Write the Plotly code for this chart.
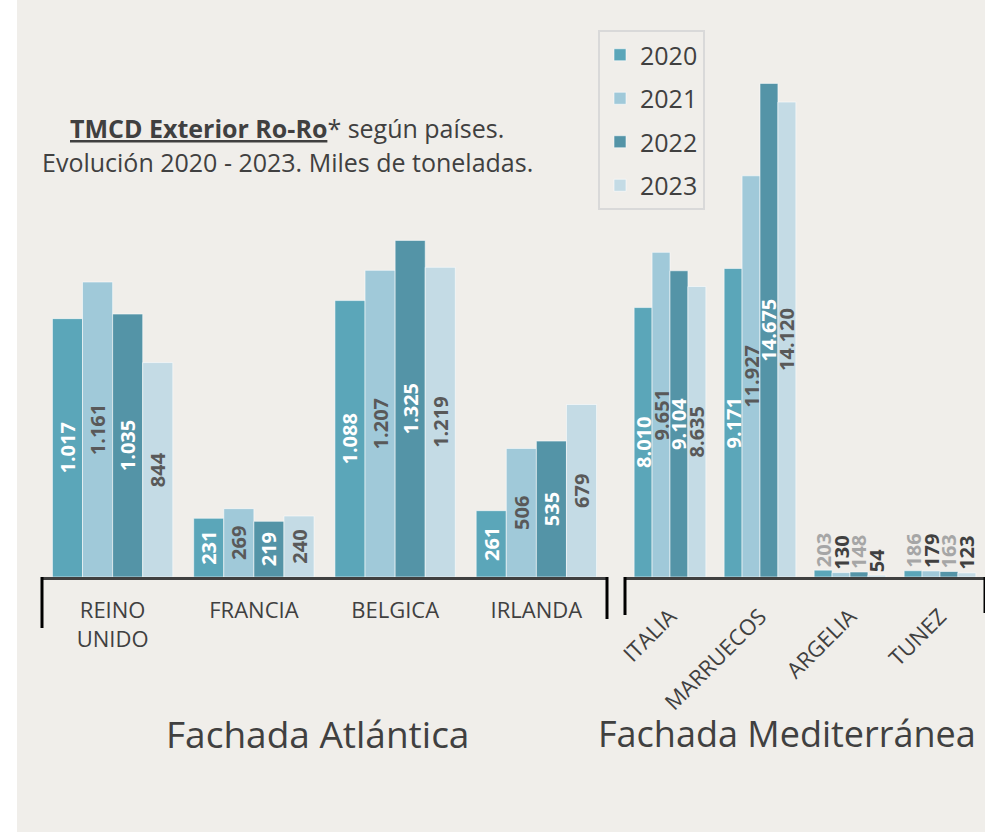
import plotly.graph_objects as go

# Data (miles de toneladas)
years = ["2020", "2021", "2022", "2023"]

atl_countries = ["REINO<br>UNIDO", "FRANCIA", "BELGICA", "IRLANDA"]
atl_2020 = [1017, 231, 1088, 261]
atl_2021 = [1161, 269, 1207, 506]
atl_2022 = [1035, 219, 1325, 535]
atl_2023 = [844, 240, 1219, 679]

med_countries = ["ITALIA", "MARRUECOS", "ARGELIA", "TUNEZ"]
med_2020 = [8010, 9171, 203, 186]
med_2021 = [9651, 11927, 130, 179]
med_2022 = [9104, 14675, 148, 163]
med_2023 = [8635, 14120, 54, 123]

atl_series = [atl_2020, atl_2021, atl_2022, atl_2023]
med_series = [med_2020, med_2021, med_2022, med_2023]

colors = ["#5ba6b9", "#a0c9d9", "#5494a7", "#c4dbe5"]
inside_font = ["white", "#595959", "white", "#595959"]
outside_font = ["#a6a6a6", "#404040", "#a6a6a6", "#404040"]
BG = "#f0eeea"
FONT = "Open Sans"
W, H = 985, 832


def fmt(v):
    return f"{v:,}".replace(",", ".")


fig = go.Figure()

atl_w = 0.852 / 4
med_w = 0.797 / 4
for i, yr in enumerate(years):
    fig.add_trace(go.Bar(
        x=atl_countries, y=atl_series[i], name=yr, legendgroup=yr,
        marker=dict(color=colors[i], line=dict(color="rgba(255,255,255,0.55)", width=1)),
        width=atl_w, offset=-0.426 + i * atl_w,
        text=[fmt(v) for v in atl_series[i]], textposition="inside",
        insidetextanchor="middle", textangle=-90, constraintext="none",
        textfont=dict(family=FONT, size=20, color=inside_font[i], weight="bold"),
        xaxis="x", yaxis="y", cliponaxis=False,
    ))
for i, yr in enumerate(years):
    vals = med_series[i]
    small = [v < 1000 for v in vals]
    fig.add_trace(go.Bar(
        x=med_countries, y=vals, name=yr, legendgroup=yr, showlegend=False,
        marker=dict(color=colors[i], line=dict(color="rgba(255,255,255,0.55)", width=1)),
        width=med_w, offset=-0.3985 + i * med_w,
        text=[fmt(v) for v in vals],
        textposition=["outside" if s else "inside" for s in small],
        insidetextanchor="middle", textangle=-90, constraintext="none",
        textfont=dict(family=FONT, size=20, weight="bold",
                      color=[outside_font[i] if s else inside_font[i] for s in small]),
        xaxis="x2", yaxis="y2", cliponaxis=False,
    ))

y0 = 1 - 577 / H
y1 = 1 - 60 / H
axis_common = dict(showline=True, linecolor="#404040", linewidth=3, ticks="",
                   showgrid=False, zeroline=False, fixedrange=True, automargin=False,
                   tickfont=dict(family=FONT, size=22, color="#404040"))

fig.update_layout(
    width=W, height=H,
    margin=dict(l=0, r=0, t=0, b=0, pad=0, autoexpand=False),
    paper_bgcolor=BG, plot_bgcolor="rgba(0,0,0,0)",
    barmode="overlay",
    font=dict(family=FONT, color="#404040"),
    xaxis=dict(domain=[42 / W, 607 / W], anchor="y", range=[-0.5, 3.5],
               ticklabelstandoff=12, **axis_common),
    xaxis2=dict(domain=[625 / W, 1.0], anchor="y2", range=[-0.5, 3.5], tickangle=-45,
                ticklabelstandoff=15, **axis_common),
    yaxis=dict(domain=[y0, y1], range=[0, 2035], visible=False),
    yaxis2=dict(domain=[y0, y1], range=[0, 15370], visible=False, anchor="x2"),
    legend=dict(x=598 / W, y=1 - 30 / H, xanchor="left", yanchor="top",
                bgcolor=BG, bordercolor="#d9d9d9", borderwidth=2,
                font=dict(family=FONT, size=25, color="#404040"),
                tracegroupgap=8),
    showlegend=True,
)

# white strip on the left edge
fig.add_shape(type="rect", xref="paper", yref="paper", x0=0, x1=17 / W, y0=0, y1=1,
              fillcolor="white", line_width=0, layer="below")

# bracket ends of the category axes
for xr, ends in (("x domain", [(0, 628), (1, 619)]), ("x2 domain", [(0, 615), (1, 613)])):
    for xd, bottom in ends:
        fig.add_shape(type="line", xref=xr, yref="paper", x0=xd, x1=xd,
                      y0=y0, y1=1 - bottom / H, line=dict(color="black", width=3))

fig.add_annotation(text="<b><u>TMCD Exterior Ro-Ro</u></b>* según países.",
                   xref="paper", yref="paper", x=287 / W, y=1 - 128 / H,
                   xanchor="center", yanchor="middle", showarrow=False,
                   font=dict(family=FONT, size=25, color="#404040"))
fig.add_annotation(text="Evolución 2020 - 2023. Miles de toneladas.",
                   xref="paper", yref="paper", x=287 / W, y=1 - 162 / H,
                   xanchor="center", yanchor="middle", showarrow=False,
                   font=dict(family=FONT, size=25, color="#404040"))
fig.add_annotation(text="Fachada Atlántica", xref="paper", yref="paper",
                   x=317 / W, y=1 - 733 / H, xanchor="center", yanchor="middle",
                   showarrow=False, font=dict(family=FONT, size=37, color="#404040"))
fig.add_annotation(text="Fachada Mediterránea", xref="paper", yref="paper",
                   x=596 / W, y=1 - 733 / H, xanchor="left", yanchor="middle",
                   showarrow=False, font=dict(family=FONT, size=36, color="#404040"))

fig.write_html("out.html", config={"displayModeBar": False},
               post_script="document.body.style.margin='0';"
                           "document.documentElement.style.overflow='hidden';")
